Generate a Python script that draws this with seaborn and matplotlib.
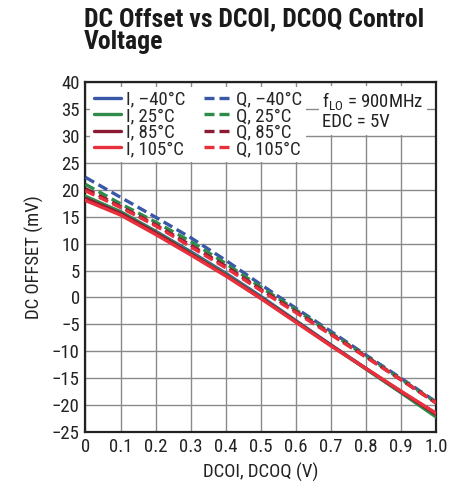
import numpy as np
import pandas as pd
import matplotlib
matplotlib.use("Agg")
import matplotlib.pyplot as plt
import seaborn as sns
from matplotlib.lines import Line2D
from matplotlib import font_manager as fm

# ---- data ----
x_vals = [0.0, 0.1, 0.2, 0.3, 0.4, 0.5, 0.6, 0.7, 0.8, 0.9, 1.0]
I_m40 = [18.6, 15.9, 12.3, 8.5, 4.5, 0.2, -4.3, -8.8, -13.2, -17.6, -22.0]
I_25 = [18.8, 15.9, 12.2, 8.3, 4.3, 0.0, -4.4, -8.9, -13.3, -17.7, -22.2]
I_85 = [18.4, 15.6, 12.0, 8.1, 4.1, -0.1, -4.5, -8.9, -13.2, -17.5, -21.7]
I_105 = [18.0, 15.3, 11.7, 7.9, 4.0, -0.2, -4.6, -9.0, -13.2, -17.4, -21.5]
Q_m40 = [22.3, 18.6, 14.9, 11.1, 6.9, 2.4, -2.0, -6.3, -10.7, -15.0, -19.4]
Q_25 = [21.0, 17.4, 14.0, 10.4, 6.3, 1.9, -2.3, -6.6, -10.9, -15.2, -19.5]
Q_85 = [20.2, 16.9, 13.5, 9.7, 5.8, 1.5, -2.6, -6.8, -11.0, -15.3, -19.6]
Q_105 = [19.8, 16.7, 13.3, 9.4, 5.5, 1.3, -2.8, -6.9, -11.1, -15.3, -19.6]

temps = ["–40°C", "25°C", "85°C", "105°C"]
colors = ["#3a58a8", "#2e8b4a", "#8c1a32", "#e8303c"]
I_series = [I_m40, I_25, I_85, I_105]
Q_series = [Q_m40, Q_25, Q_85, Q_105]

x_ticks = [0, 0.1, 0.2, 0.3, 0.4, 0.5, 0.6, 0.7, 0.8, 0.9, 1.0]
x_ticklabels = ["0", "0.1", "0.2", "0.3", "0.4", "0.5", "0.6", "0.7", "0.8", "0.9", "1.0"]
y_ticks = list(range(-25, 41, 5))

sns.set_style("white")

# pick a narrow font if one is installed
names = {f.name for f in fm.fontManager.ttflist}
narrow = None
for cand in ["Liberation Sans Narrow", "Roboto Condensed", "Open Sans Condensed",
             "Arial Narrow", "Nimbus Sans Narrow"]:
    if cand in names:
        narrow = cand
        break
if narrow is None:
    plt.rcParams["font.family"] = ["DejaVu Sans"]
    plt.rcParams["font.stretch"] = "condensed"
    narrow = "DejaVu Sans"
else:
    plt.rcParams["font.family"] = [narrow, "DejaVu Sans"]
plt.rcParams["axes.unicode_minus"] = True
plt.rcParams["mathtext.fontset"] = "custom"
plt.rcParams["mathtext.rm"] = narrow

fig = plt.figure(figsize=(4.72, 4.91), dpi=100)
ax = fig.add_axes([0.181, 0.12, 0.743, 0.713])

LW = 2.4
DASH = (3.0, 1.5)
FS = 13.5

for ser, c in zip(Q_series, colors):
    sns.lineplot(x=x_vals, y=ser, ax=ax, color=c, lw=LW,
                 linestyle=(0, DASH), zorder=3)
for ser, c in zip(I_series, colors):
    sns.lineplot(x=x_vals, y=ser, ax=ax, color=c, lw=LW, zorder=3)

ax.set_xlim(0, 1.0)
ax.set_ylim(-25, 40)
ax.set_xticks(x_ticks)
ax.set_xticklabels(x_ticklabels)
ax.set_yticks(y_ticks)
ax.grid(True, color="#8a8a8a", lw=1.0)
ax.set_axisbelow(True)
for s in ax.spines.values():
    s.set_color("#222222")
    s.set_linewidth(1.6)
ax.tick_params(length=0, labelsize=FS, pad=4, colors="#222222")

ax.set_xlabel("DCOI, DCOQ (V)", fontsize=FS, color="#222222", labelpad=5)
ax.set_ylabel("DC OFFSET (mV)", fontsize=FS, color="#222222", labelpad=6)

handles = []
labels = []
for t, c in zip(temps, colors):
    handles.append(Line2D([], [], color=c, lw=LW))
    labels.append("I, " + t)
for t, c in zip(temps, colors):
    handles.append(Line2D([], [], color=c, lw=LW, linestyle=(0, DASH)))
    labels.append("Q, " + t)
leg = ax.legend(handles, labels, ncol=2, loc="upper left",
                bbox_to_anchor=(0.0, 1.0), frameon=True, fancybox=False,
                framealpha=1.0, edgecolor="white", fontsize=FS,
                handlelength=1.45, handletextpad=0.25, columnspacing=1.0,
                labelspacing=-0.08, borderpad=0.2, borderaxespad=0.25)
leg.get_frame().set_linewidth(0)

ax.text(0.675, 0.975, "f$_{\\mathrm{LO}}$ = 900MHz\nEDC = 5V", transform=ax.transAxes,
        ha="left", va="top", fontsize=FS, color="#222222", linespacing=1.0,
        bbox=dict(facecolor="white", edgecolor="none", pad=2.5), zorder=5)

fig.text(0.178, 0.985, "DC Offset vs DCOI, DCOQ Control\nVoltage", ha="left", va="top",
         fontsize=18.5, fontweight="bold", color="#1a1a1a", linespacing=0.92)

fig.savefig("out.png", dpi=100, facecolor="white")
